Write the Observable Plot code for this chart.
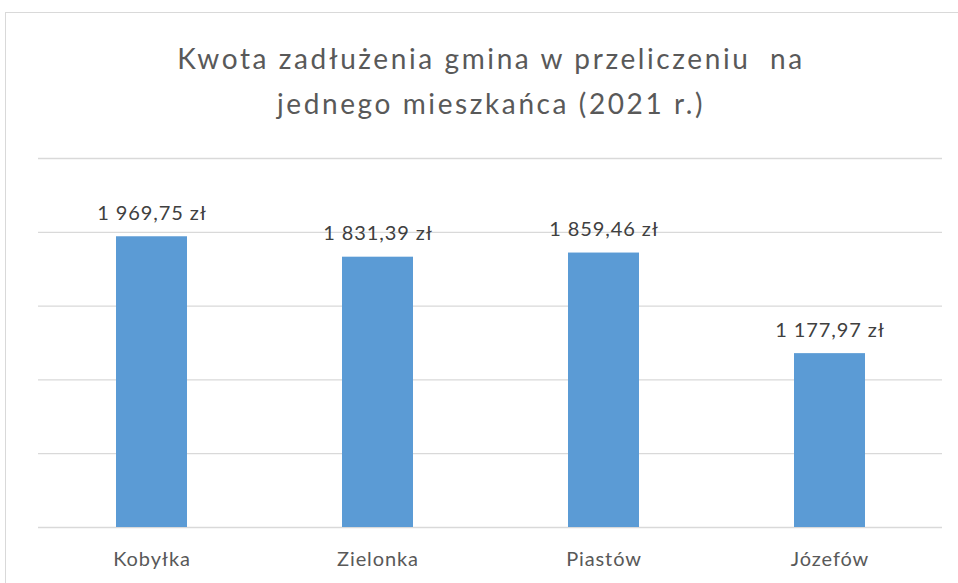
<!DOCTYPE html>
<html><head><meta charset="utf-8">
<script src="https://cdn.jsdelivr.net/npm/d3@7"></script>
<script src="https://cdn.jsdelivr.net/npm/@observablehq/plot@0.6"></script>
<style>
body{margin:0;background:#fff;width:958px;height:583px;overflow:hidden;position:relative;font-family:Lato,"Open Sans",sans-serif}
#frame{position:absolute;left:5px;top:12px;width:1000px;height:1000px;border:1px solid #d9d9d9;box-sizing:border-box}
#title{position:absolute;left:0;width:982px;top:36px;text-align:center;font-size:28px;letter-spacing:2.6px;line-height:45px;color:#595959}
#chart{position:absolute;left:0;top:140px}
</style></head>
<body>
<div id="frame"></div>
<div id="title">Kwota zadłużenia gmina w przeliczeniu&nbsp; na<br>jednego mieszkańca (2021 r.)</div>
<div id="chart"></div>
<script>
const categories = ["Kobyłka", "Zielonka", "Piastów", "Józefów"];
const values = [1969.75, 1831.39, 1859.46, 1177.97];
const yTicks = [0, 500, 1000, 1500, 2000, 2500];

const data = categories.map((c, i) => ({gmina: c, value: values[i]}));
const locale = d3.formatLocale({decimal: ",", thousands: "\u00a0", grouping: [3], currency: ["", " zł"]});
const fmt = locale.format(",.2f");

const chart = Plot.plot({
  width: 958,
  height: 443,
  marginLeft: 38,
  marginRight: 16,
  marginTop: 18,
  marginBottom: 56,
  x: {domain: categories, paddingInner: 0.686, paddingOuter: 0.343, label: null},
  y: {domain: [0, 2500], ticks: yTicks, axis: null},
  style: {fontFamily: "Lato, 'Open Sans', sans-serif", fontSize: "20px", color: "#595959", background: "transparent", letterSpacing: "0.9px"},
  marks: [
    Plot.ruleY(yTicks, {stroke: "#d9d9d9", strokeWidth: 1.3}),
    Plot.barY(data, {x: "gmina", y: "value", fill: "#5b9bd5"}),
    Plot.text(data, {x: "gmina", y: "value", text: d => fmt(d.value) + " zł", dy: -17, lineAnchor: "bottom", fill: "#404040", fontSize: 20}),
    Plot.axisX({tickSize: 0, tickPadding: 24, fontSize: 20, fill: "#595959", label: null})
  ]
});
document.getElementById("chart").appendChild(chart);
</script>
</body></html>
